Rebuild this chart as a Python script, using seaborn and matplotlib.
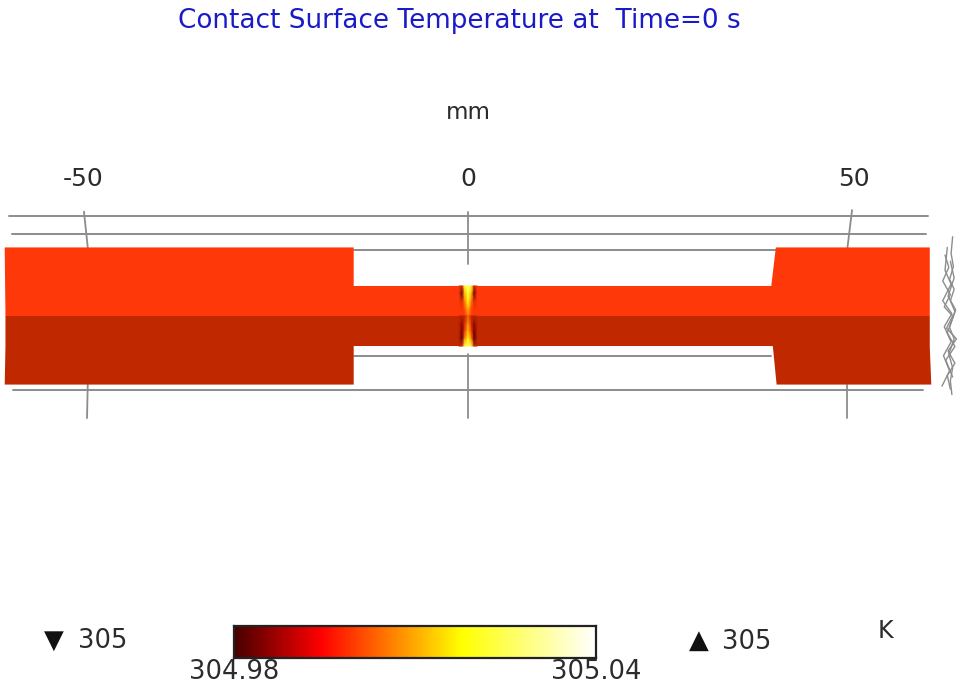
import numpy as np
import pandas as pd
import matplotlib
matplotlib.use("Agg")
import matplotlib.pyplot as plt
from matplotlib.colors import LinearSegmentedColormap
import seaborn as sns

# ---------- data (mm / K) ----------
title = "Contact Surface Temperature at  Time=0 s"
tick_values = [-50, 0, 50]
tick_label_x = [-50.5, 0, 50.6]
T_min, T_max = 304.98, 305.04
under_label, over_label = "305", "305"

top_outline_x = [-60.8, -15.0, -15.0, 39.8, 40.4, 60.6, 60.6, -60.7]
top_outline_y = [9.0, 9.0, 3.94, 3.94, 9.0, 9.0, 0.0, 0.0]
bottom_outline_x = [-60.7, 60.6, 60.6, 60.8, 40.5, 40.0, -15.0, -15.0, -60.8, -60.7]
bottom_outline_y = [0.0, 0.0, -4.0, -9.0, -9.0, -3.94, -3.94, -9.0, -9.0, -4.0]

h_lines = [
    ([-60.2, 60.4], [13.1, 13.1]),
    ([-59.9, 60.1], [10.8, 10.8]),
    ([-15.0, 40.4], [8.6, 8.6]),
    ([-15.0, 39.8], [-5.3, -5.3]),
    ([-59.7, 59.7], [-9.75, -9.75]),
]
v_lines = [
    ([-50.4, -49.9], [13.7, 9.0]),
    ([-49.9, -50.0], [-9.0, -13.4]),
    ([0.0, 0.0], [13.7, 6.8]),
    ([0.0, 0.0], [-5.0, -13.4]),
    ([50.4, 49.8], [13.9, 9.0]),
    ([49.8, 49.8], [-9.0, -13.4]),
]
scribbles = [
    ([63.6, 63.4, 63.7, 63.2, 63.8, 63.3, 63.9, 63.2, 63.8, 63.1, 63.6, 63.3, 63.5],
     [10.4, 8.2, 6.5, 4.8, 3.5, 2.0, 0.6, -1.5, -3.0, -5.0, -6.8, -8.5, -10.3]),
    ([62.6, 63.1, 62.3, 63.3, 62.5, 63.6, 62.8, 64.1, 63.0, 63.9, 62.9, 63.3],
     [8.0, 6.4, 4.6, 2.8, 1.2, 0.0, -1.6, -3.0, -4.6, -6.2, -7.8, -9.6]),
    ([62.9, 62.6, 63.4, 62.3, 63.5, 62.5, 63.4, 62.4, 63.2, 62.2],
     [9.0, 6.0, 4.2, 2.0, 0.3, -1.4, -3.4, -5.2, -7.2, -9.2]),
    ([63.3, 63.8, 63.0, 64.0, 62.9, 63.9, 62.7, 63.6],
     [7.2, 5.0, 2.6, 0.8, -2.2, -4.0, -5.8, -8.0]),
]

top_face_colour = "#ff380a"
bottom_face_colour = "#c02800"

hot_x = [-1.2, -0.8, -0.45, 0.0, 0.45, 0.8, 1.2]
hot_y_top = [3.94, 3.0, 2.0, 1.0, 0.0]
hot_y_bottom = [0.0, -1.0, -2.0, -3.0, -3.94]
hot_T_top = [
    [305.000, 304.993, 305.020, 305.029, 305.020, 304.993, 305.000],
    [305.000, 304.984, 305.012, 305.022, 305.012, 304.984, 305.000],
    [305.000, 304.994, 305.006, 305.019, 305.006, 304.994, 305.000],
    [305.000, 304.999, 305.002, 305.012, 305.002, 304.999, 305.000],
    [305.000, 305.000, 305.000, 305.006, 305.000, 305.000, 305.000],
]
hot_T_bottom = [
    [304.991, 304.991, 304.991, 305.003, 304.991, 304.991, 304.991],
    [304.991, 304.988, 304.993, 305.008, 304.993, 304.988, 304.991],
    [304.991, 304.986, 304.998, 305.012, 304.998, 304.986, 304.991],
    [304.991, 304.983, 305.006, 305.018, 305.006, 304.983, 304.991],
    [304.991, 304.993, 305.022, 305.027, 305.022, 304.993, 304.991],
]

cmap_stops = [(0.0, "#470000"), (0.24, "#ff0000"), (0.63, "#ffff00"), (1.0, "#ffffff")]
field_stops = [(0.0, "#470000"), (0.12, "#8a0000"), (0.1833, bottom_face_colour),
               (0.3333, top_face_colour), (0.63, "#ffff00"), (1.0, "#ffffff")]

# ---------- figure ----------
sns.set_theme(style="white")
plt.rcParams["font.family"] = ["DejaVu Sans"]
W, H = 961, 693
fig = plt.figure(figsize=(W / 100, H / 100), dpi=100, facecolor="white")
PX_PER_MM = 7.62
ax = fig.add_axes([0, 0, 1, 1])
ax.axis("off")

cmap = LinearSegmentedColormap.from_list("heat", cmap_stops)
field_cmap = LinearSegmentedColormap.from_list("field", field_stops)
grey = "#8c8c8c"


def draw_lines(segments, lw, z):
    rows = [(i, x, y) for i, (xs, ys) in enumerate(segments) for x, y in zip(xs, ys)]
    df = pd.DataFrame(rows, columns=["line", "x", "y"])
    sns.lineplot(data=df, x="x", y="y", units="line", estimator=None, sort=False,
                 color=grey, lw=lw, ax=ax, zorder=z, legend=False)


draw_lines(h_lines, 1.4, 1)
draw_lines(v_lines, 1.3, 1)
draw_lines(scribbles, 1.0, 1)

ax.fill(top_outline_x, top_outline_y, color=top_face_colour, lw=0, zorder=2)
ax.fill(bottom_outline_x, bottom_outline_y, color=bottom_face_colour, lw=0, zorder=2)
ax.pcolormesh(hot_x, hot_y_top, hot_T_top, cmap=field_cmap, vmin=T_min, vmax=T_max,
              shading="gouraud", zorder=3)
ax.pcolormesh(hot_x, hot_y_bottom, hot_T_bottom, cmap=field_cmap, vmin=T_min, vmax=T_max,
              shading="gouraud", zorder=3)
ax.set_xlim(-468 / PX_PER_MM, (W - 468) / PX_PER_MM)
ax.set_ylim((316 - H) / PX_PER_MM, 316 / PX_PER_MM)

text_c = "#2b2b2b"
for t, tx in zip(tick_values, tick_label_x):
    ax.text(tx, 18.0, str(t), ha="center", va="center", fontsize=18, color=text_c)
ax.text(0, 26.7, "mm", ha="center", va="center", fontsize=16.5, color=text_c)
fig.text(459 / W, 1 - 21 / H, title, ha="center", va="center", fontsize=18.9, color="#1a1ac8")

fig.text(54 / W, 1 - 641 / H, "▼", ha="center", va="center", fontsize=18.5, color="#111111")
fig.text(78 / W, 1 - 641 / H, under_label, ha="left", va="center", fontsize=18.5, color=text_c)
fig.text(699 / W, 1 - 641 / H, "▲", ha="center", va="center", fontsize=18.5, color="#111111")
fig.text(722 / W, 1 - 642 / H, over_label, ha="left", va="center", fontsize=18.5, color=text_c)
fig.text(885 / W, 1 - 631 / H, "K", ha="center", va="center", fontsize=17, color=text_c)

# colour bar
cax = fig.add_axes([234 / W, 1 - 658 / H, 362 / W, 32 / H])
gradient = np.linspace(T_min, T_max, 256)[None, :]
sns.heatmap(gradient, ax=cax, cmap=cmap, vmin=T_min, vmax=T_max, cbar=False,
            xticklabels=False, yticklabels=False)
cax.set_xticks([0, 256])
cax.set_xticklabels([f"{T_min:.2f}", f"{T_max:.2f}"], fontsize=18.5, color=text_c)
cax.tick_params(axis="x", length=0, pad=1, bottom=True)
cax.set_yticks([])
cax.set_xlabel("")
cax.set_ylabel("")
for s in cax.spines.values():
    s.set_visible(True)
    s.set_color("#222222")
    s.set_linewidth(1.6)

fig.savefig("out.png", dpi=100, facecolor="white")
